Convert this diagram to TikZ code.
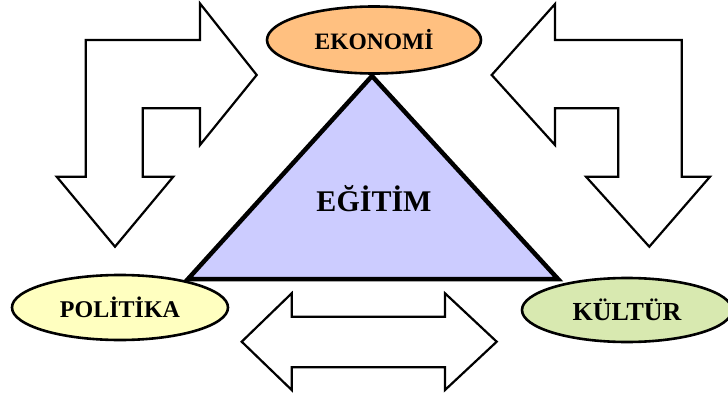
\documentclass[tikz,border=0pt]{standalone}
\usepackage{fontspec}
\setmainfont{Liberation Serif}
\usetikzlibrary{shapes.geometric}
\definecolor{ekofill}{RGB}{255,192,128}
\definecolor{polfill}{RGB}{255,255,192}
\definecolor{kulfill}{RGB}{216,233,176}
\definecolor{trifill}{RGB}{204,204,255}
\tikzset{
  blockarrow/.style={draw=black, line width=2.2pt, fill=white, line join=miter},
  oval/.style={ellipse, draw=black, line width=2.6pt, inner sep=0pt, font=\bfseries\fontsize{24}{28}\selectfont},
  tri/.style={draw=black, line width=4.5pt, fill=trifill, line join=miter}
}
\begin{document}
\begin{tikzpicture}[x=1pt,y=-1pt]
\useasboundingbox (0,0) rectangle (728,396);
% triangle
\draw[tri] (372,76) -- (558,279) -- (188,279) -- cycle;
\node[font=\bfseries\fontsize{30}{34}\selectfont] (egitim) at (374,199) {EĞİTİM};
% left bent arrow
\draw[blockarrow] (85.7,40) -- (200,40) -- (200,3.5) -- (256.7,75) -- (200,145) -- (200,108.3)
  -- (142.7,108.3) -- (142.7,176.7) -- (173.3,176.7) -- (115,246.7) -- (56.7,176.7) -- (85.7,176.7) -- cycle;
% right bent arrow
\draw[blockarrow] (681.7,40) -- (555,40) -- (555,4) -- (491.7,75) -- (555,145) -- (555,108.3)
  -- (618.3,108.3) -- (618.3,176.7) -- (586,176.7) -- (649.3,246.7) -- (710,176.7) -- (681.7,176.7) -- cycle;
% double arrow
\draw[blockarrow] (241.7,341.7) -- (291.7,293.3) -- (291.7,316.7) -- (445,316.7) -- (445,293.3) -- (496.7,341.7)
  -- (445,390) -- (445,367.3) -- (291.7,367.3) -- (291.7,390) -- cycle;
% ellipses
\node[oval, fill=ekofill, minimum width=214pt, minimum height=67pt, font=\bfseries\fontsize{23.5}{28}\selectfont] (eko) at (374,40) {EKONOMİ};
\node[oval, fill=polfill, minimum width=216pt, minimum height=65pt] (pol) at (120,307.5) {POLİTİKA};
\node[oval, fill=kulfill, minimum width=210pt, minimum height=64pt, font=\bfseries\fontsize{26}{30}\selectfont] (kul) at (627,310) {KÜLTÜR};
\end{tikzpicture}
\end{document}
